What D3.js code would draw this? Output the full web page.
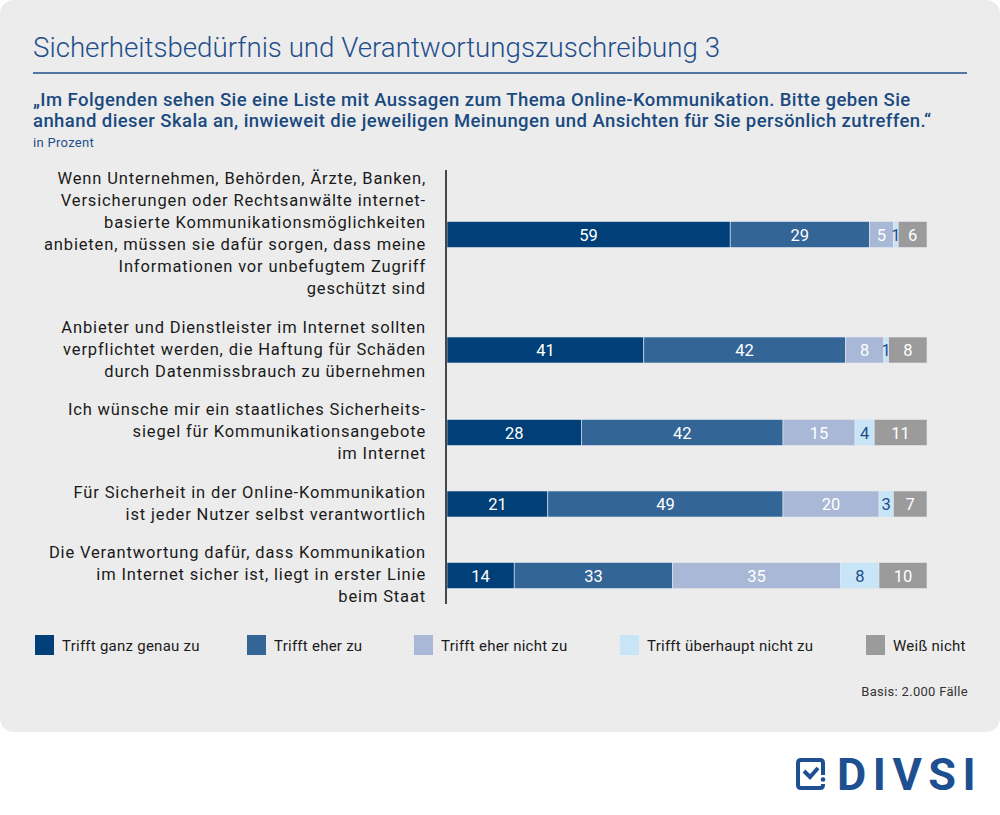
<!DOCTYPE html>
<html>
    <head>
        <meta charset="utf-8">
        <style>
            body { margin: 0; background: #fff; }
            svg { display: block; }
            text { font-family: Roboto, "Noto Sans", sans-serif; }
        </style>
        <script src="https://cdnjs.cloudflare.com/ajax/libs/d3/7.8.5/d3.min.js"></script>
    </head>
    <body>
        <script>
            // statements, one entry per bar (line breaks as in the original)
            const categories = [
                ['Wenn Unternehmen, Behörden, Ärzte, Banken,',
                 'Versicherungen oder Rechtsanwälte internet-',
                 'basierte Kommunikationsmöglichkeiten',
                 'anbieten, müssen sie dafür sorgen, dass meine',
                 'Informationen vor unbefugtem Zugriff',
                 'geschützt sind'],
                ['Anbieter und Dienstleister im Internet sollten',
                 'verpflichtet werden, die Haftung für Schäden',
                 'durch Datenmissbrauch zu übernehmen'],
                ['Ich wünsche mir ein staatliches Sicherheits-',
                 'siegel für Kommunikationsangebote',
                 'im Internet'],
                ['Für Sicherheit in der Online-Kommunikation',
                 'ist jeder Nutzer selbst verantwortlich'],
                ['Die Verantwortung dafür, dass Kommunikation',
                 'im Internet sicher ist, liegt in erster Linie',
                 'beim Staat']
            ];

            const seriesNames = ['Trifft ganz genau zu', 'Trifft eher zu', 'Trifft eher nicht zu',
                'Trifft überhaupt nicht zu', 'Weiß nicht'];

            const ganzGenau = [59, 41, 28, 21, 14];
            const eherZu = [29, 42, 42, 49, 33];
            const eherNicht = [5, 8, 15, 20, 35];
            const ueberhauptNicht = [1, 1, 4, 3, 8];
            const weissNicht = [6, 8, 11, 7, 10];

            const colors = ['#003f78', '#336597', '#a9b8d6', '#c8e4f7', '#9b9b9b'];
            const labelColors = ['#ffffff', '#ffffff', '#ffffff', '#1f4e8c', '#ffffff'];
            const legendX = [35, 247, 414, 620, 866];

            const W = 1000, H = 815;
            const blue = '#1f4e8c';

            const svg = d3.select('body').append('svg')
                .attr('width', W)
                .attr('height', H);

            // grey panel
            svg.append('rect')
                .attr('x', 0).attr('y', 0)
                .attr('width', W).attr('height', 732)
                .attr('rx', 14)
                .attr('fill', '#ececec');

            // heading
            svg.append('text')
                .attr('x', 33).attr('y', 57)
                .attr('font-size', 27.7)
                .attr('font-weight', 300)
                .attr('fill', blue)
                .text('Sicherheitsbedürfnis und Verantwortungszuschreibung 3');

            svg.append('line')
                .attr('x1', 33).attr('x2', 967)
                .attr('y1', 73).attr('y2', 73)
                .attr('stroke', blue)
                .attr('stroke-width', 1.5);

            const question = [
                '„Im Folgenden sehen Sie eine Liste mit Aussagen zum Thema Online-Kommunikation. Bitte geben Sie',
                'anhand dieser Skala an, inwieweit die jeweiligen Meinungen und Ansichten für Sie persönlich zutreffen.“'
            ];
            svg.append('g').selectAll('text')
                .data(question)
                .enter().append('text')
                .attr('x', 33)
                .attr('y', (d, i) => 106 + i * 21)
                .attr('font-size', 18.5)
                .attr('font-weight', 500)
                .attr('letter-spacing', 0.42)
                .attr('fill', '#1a4a80')
                .text(d => d);

            svg.append('text')
                .attr('x', 33).attr('y', 147)
                .attr('font-size', 13)
                .attr('letter-spacing', 0.3)
                .attr('fill', blue)
                .text('in Prozent');

            // vertical layout in "line units": each block = its text lines + a gap
            const lineH = 22;
            const gapUnits = 0.75;
            const lineCounts = categories.map(c => c.length);
            const starts = [0].concat(Array.from(d3.cumsum(lineCounts, d => d + gapUnits)));
            const totalUnits = starts[starts.length - 1];
            const y = d3.scaleLinear()
                .domain([0, totalUnits])
                .range([167, 167 + totalUnits * lineH]);
            const centerUnit = i => starts[i] + lineCounts[i] / 2;

            const x = d3.scaleLinear()
                .domain([0, 100])
                .range([447, 927]);

            const rows = categories.map((c, i) => ({
                index: i,
                s0: ganzGenau[i], s1: eherZu[i], s2: eherNicht[i], s3: ueberhauptNicht[i], s4: weissNicht[i]
            }));
            const keys = ['s0', 's1', 's2', 's3', 's4'];
            const stacked = d3.stack().keys(keys)(rows);

            const barH = 26;

            // category labels
            const labels = svg.append('g');
            categories.forEach((lines, i) => {
                labels.append('text')
                    .attr('text-anchor', 'end')
                    .attr('font-size', 16.5)
                    .attr('letter-spacing', 0.85)
                    .attr('fill', '#1a1a1a')
                    .selectAll('tspan')
                    .data(lines)
                    .enter().append('tspan')
                    .attr('x', 426)
                    .attr('y', (d, j) => y(starts[i] + j + 0.5) + 6)
                    .text(d => d);
            });

            // bars
            const layer = svg.append('g').selectAll('g')
                .data(stacked)
                .enter().append('g')
                .attr('fill', (d, k) => colors[k]);

            layer.selectAll('rect')
                .data(d => d)
                .enter().append('rect')
                .attr('x', d => x(d[0]))
                .attr('width', d => x(d[1]) - x(d[0]))
                .attr('y', d => y(centerUnit(d.data.index)) + 1.5 - barH / 2)
                .attr('height', barH)
                .attr('stroke', '#e4e9f0')
                .attr('stroke-width', 0.6);

            layer.selectAll('text')
                .data((d, k) => d.map(v => ({ v, k })))
                .enter().append('text')
                .attr('x', d => (x(d.v[0]) + x(d.v[1])) / 2)
                .attr('y', d => y(centerUnit(d.v.data.index)) + 1.5 + 6)
                .attr('text-anchor', 'middle')
                .attr('font-size', 16.5)
                .attr('fill', d => labelColors[d.k])
                .text(d => d.v[1] - d.v[0]);

            // axis line
            svg.append('line')
                .attr('x1', 446).attr('x2', 446)
                .attr('y1', 170).attr('y2', 604)
                .attr('stroke', '#111')
                .attr('stroke-width', 1.5);

            // legend
            const legend = svg.append('g').selectAll('g')
                .data(seriesNames)
                .enter().append('g')
                .attr('transform', (d, i) => `translate(${legendX[i]}, 635)`);
            legend.append('rect')
                .attr('width', 19).attr('height', 20)
                .attr('fill', (d, i) => colors[i]);
            legend.append('text')
                .attr('x', 27).attr('y', 15.5)
                .attr('font-size', 15)
                .attr('letter-spacing', 0.25)
                .attr('fill', '#1a1a1a')
                .text(d => d);

            svg.append('text')
                .attr('x', 968).attr('y', 696)
                .attr('text-anchor', 'end')
                .attr('font-size', 13)
                .attr('letter-spacing', 0.3)
                .attr('fill', '#333')
                .text('Basis: 2.000 Fälle');

            // DIVSI logo
            const logo = svg.append('g').attr('transform', 'translate(796, 758)');
            logo.append('path')
                .attr('d', 'M27,17 L27,5 Q27,2 24,2 L5,2 Q2,2 2,5 L2,27 Q2,30 5,30 L24,30 Q27,30 27,27 L27,26')
                .attr('fill', 'none')
                .attr('stroke', '#1d4f91')
                .attr('stroke-width', 4);
            logo.append('circle')
                .attr('cx', 27).attr('cy', 21.5).attr('r', 2.3)
                .attr('fill', '#1d4f91');
            logo.append('path')
                .attr('d', 'M8,13 L14,19 L22,10')
                .attr('fill', 'none')
                .attr('stroke', '#1d4f91')
                .attr('stroke-width', 4);
            svg.append('text')
                .attr('x', 837).attr('y', 790)
                .attr('font-size', 45)
                .attr('font-weight', 700)
                .attr('letter-spacing', 6.5)
                .attr('fill', '#1d4f91')
                .text('DIVSI');
        </script>
    </body>
</html>
